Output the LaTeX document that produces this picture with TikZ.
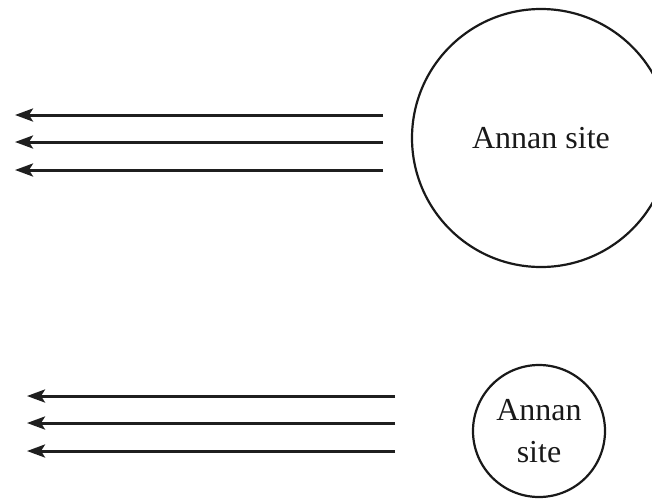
\documentclass[tikz,border=0pt]{standalone}
\usepackage{fontspec}
\setmainfont{Liberation Serif}
\usetikzlibrary{arrows.meta}
\begin{document}
\begin{tikzpicture}[x=1pt,y=-1pt,
  ray/.style={line width=3pt,color=black!88,-{Stealth[length=18pt,width=13pt,inset=4pt]}},
  site/.style={circle,draw,line width=2.2pt,color=black!90,text=black!90,inner sep=0pt,font=\fontsize{32}{42}\selectfont,align=center}]
\useasboundingbox (0,0) rectangle (652,499);
% big site
\node[site,minimum size=258pt] (big) at (541,138) {Annan site};
\foreach \i/\y in {1/115,2/142,3/170}{
  \coordinate (bs\i) at (383,\y);
  \coordinate (be\i) at (15,\y);
  \draw[ray] (bs\i) -- (be\i);
}
% small site
\node[site,minimum size=132pt] (small) at (539,431) {Annan\\site};
\foreach \i/\y in {1/396,2/423,3/451}{
  \coordinate (ss\i) at (395,\y);
  \coordinate (se\i) at (27,\y);
  \draw[ray] (ss\i) -- (se\i);
}
\end{tikzpicture}
\end{document}
